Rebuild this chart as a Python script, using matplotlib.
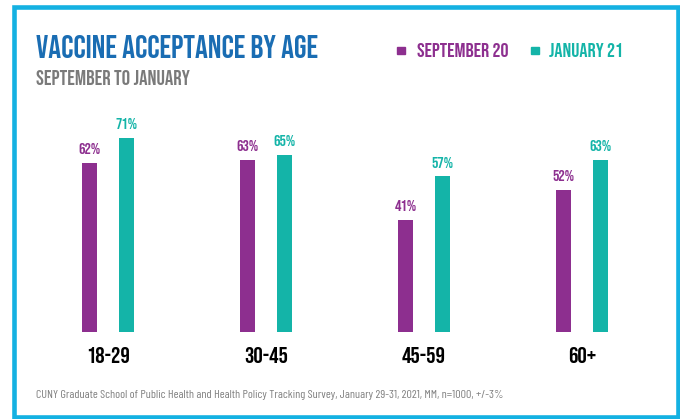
import matplotlib.pyplot as plt
from matplotlib.patches import Rectangle

# data
age_groups = ["18-29", "30-45", "45-59", "60+"]
sept_20 = [62, 63, 41, 52]
jan_21 = [71, 65, 57, 63]

purple = "#8d2f8f"
teal = "#14b4a8"
blue = "#1a6db3"
border = "#14b1e2"

head = ["Bebas Neue", "Barlow Condensed", "DejaVu Sans"]
plt.rcParams['font.family'] = ["Barlow Condensed", "DejaVu Sans"]

W, H = 680, 419
fig = plt.figure(figsize=(W / 100, H / 100), dpi=100)
fig.patch.set_facecolor("white")

# axes placed so group centres land at 108 + 158*i px
x0, step = 108, 158
ax = fig.add_axes([0, (H - 331.7) / H, 1, 272.6 / H])
ax.set_xlim(-x0 / step, (W - x0) / step)
ax.set_ylim(0, 100)
ax.axis("off")

off = 18.5 / step
bw = 15 / step
xs = list(range(len(age_groups)))
ax.bar([x - off for x in xs], sept_20, width=bw, color=purple)
ax.bar([x + off for x in xs], jan_21, width=bw, color=teal)

for x, v in zip(xs, sept_20):
    ax.annotate(f"{v}%", (x - off, v), xytext=(0, 6.3), textcoords="offset points",
                ha="center", va="baseline", color=purple, fontsize=11.5, family=head)
for x, v in zip(xs, jan_21):
    ax.annotate(f"{v}%", (x + off, v), xytext=(0, 6.3), textcoords="offset points",
                ha="center", va="baseline", color=teal, fontsize=11.5, family=head)

for x, lab in zip(xs, age_groups):
    ax.annotate(lab, (x, 0), xytext=(0, -22.5), textcoords="offset points",
                ha="center", va="baseline", color="black", fontsize=16.8, family=head)

# titles
fig.text(36 / W, 1 - 58 / H, "VACCINE ACCEPTANCE BY AGE", color=blue,
         fontsize=23, family=head, va="baseline")
fig.text(36 / W, 1 - 85 / H, "SEPTEMBER TO JANUARY", color="#7a7a7a",
         fontsize=15, family=head, va="baseline")

# legend
fig.patches.append(Rectangle((397 / W, 1 - 54.5 / H), 8 / W, 7.5 / H,
                             transform=fig.transFigure, color=purple))
fig.text(417 / W, 1 - 57 / H, "SEPTEMBER 20", color=purple, fontsize=14.5,
         family=head, va="baseline")
fig.patches.append(Rectangle((531 / W, 1 - 54.5 / H), 8 / W, 7.5 / H,
                             transform=fig.transFigure, color=teal))
fig.text(549 / W, 1 - 57 / H, "JANUARY 21", color=teal, fontsize=14.5,
         family=head, va="baseline")

# footer
fig.text(36 / W, 1 - 398 / H,
         "CUNY Graduate School of Public Health and Health Policy Tracking Survey, "
         "January 29-31, 2021, MM, n=1000, +/-3%",
         color="#808080", fontsize=8.7, va="baseline")

# frame
fig.patches.append(Rectangle((14 / W, 2.5 / H), 664 / W, (H - 9.5) / H,
                             transform=fig.transFigure, fill=False,
                             edgecolor=border, linewidth=3.3))

fig.savefig("out.png", dpi=100)
